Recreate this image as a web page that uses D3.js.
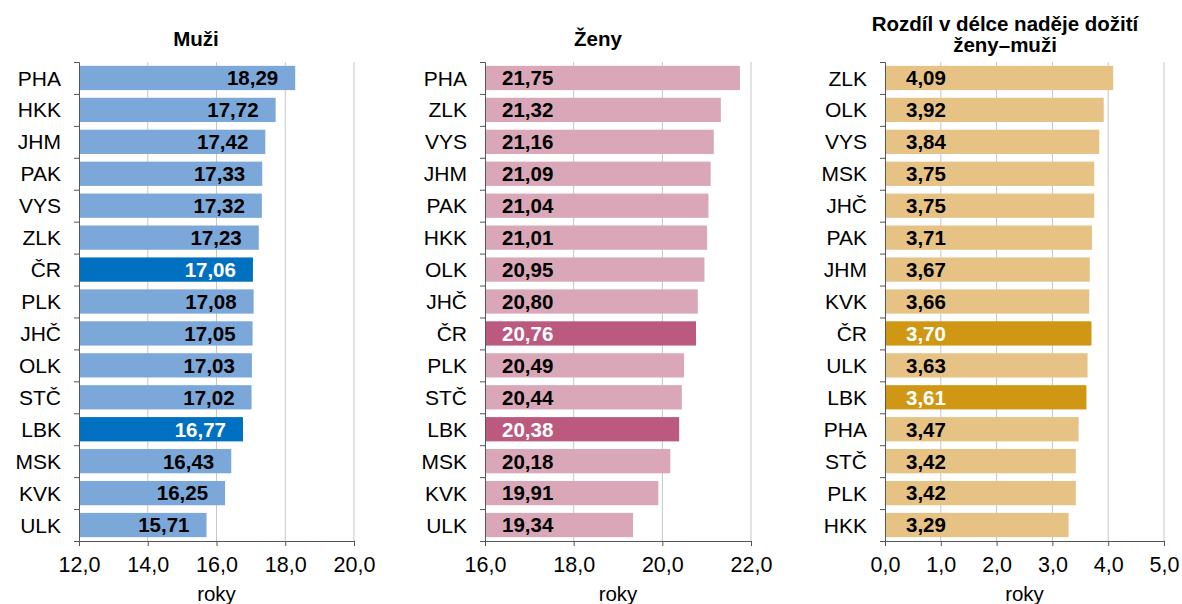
<!DOCTYPE html>
<html>
<head>
<meta charset="utf-8">
<script src="https://cdn.jsdelivr.net/npm/d3@7"></script>
<style>
  body { margin: 0; background: #fff; }
  text { font-family: "Liberation Sans", Arial, sans-serif; }
</style>
</head>
<body>
<div id="chart"></div>
<script>
// data
const menRegions = ["PHA", "HKK", "JHM", "PAK", "VYS", "ZLK", "ČR", "PLK", "JHČ", "OLK", "STČ", "LBK", "MSK", "KVK", "ULK"];
const menValues = [18.29, 17.72, 17.42, 17.33, 17.32, 17.23, 17.06, 17.08, 17.05, 17.03, 17.02, 16.77, 16.43, 16.25, 15.71];

const womenRegions = ["PHA", "ZLK", "VYS", "JHM", "PAK", "HKK", "OLK", "JHČ", "ČR", "PLK", "STČ", "LBK", "MSK", "KVK", "ULK"];
const womenValues = [21.75, 21.32, 21.16, 21.09, 21.04, 21.01, 20.95, 20.80, 20.76, 20.49, 20.44, 20.38, 20.18, 19.91, 19.34];

const diffRegions = ["ZLK", "OLK", "VYS", "MSK", "JHČ", "PAK", "JHM", "KVK", "ČR", "ULK", "LBK", "PHA", "STČ", "PLK", "HKK"];
const diffValues = [4.09, 3.92, 3.84, 3.75, 3.75, 3.71, 3.67, 3.66, 3.70, 3.63, 3.61, 3.47, 3.42, 3.42, 3.29];

const menTicks = [12, 14, 16, 18, 20];
const womenTicks = [16, 18, 20, 22];
const diffTicks = [0, 1, 2, 3, 4, 5];

const highlighted = ["ČR", "LBK"];

const svgWidth = 1182;
const svgHeight = 604;
const plotTop = 62;
const plotBottom = 541;

const svg = d3.select("#chart")
  .append("svg")
  .attr("width", svgWidth)
  .attr("height", svgHeight);

const fmt = v => v.toFixed(2).replace(".", ",");
const fmtTick = v => v.toFixed(1).replace(".", ",");

function drawPanel(opts) {
  const g = svg.append("g");
  const data = opts.regions.map((r, i) => ({ region: r, value: opts.values[i] }));

  const x = d3.scaleLinear()
    .domain(opts.domain)
    .range([opts.left, opts.right]);

  const y = d3.scaleBand()
    .domain(opts.regions)
    .range([plotTop, plotBottom])
    .paddingInner(0.24)
    .paddingOuter(0.12);

  // gridlines
  g.selectAll("line.grid")
    .data(opts.ticks.slice(1))
    .enter()
    .append("line")
    .attr("x1", d => x(d))
    .attr("x2", d => x(d))
    .attr("y1", plotTop)
    .attr("y2", plotBottom)
    .attr("stroke", "#c6c6c6")
    .attr("stroke-width", 1);

  // bars
  g.selectAll("rect")
    .data(data)
    .enter()
    .append("rect")
    .attr("x", x(opts.domain[0]))
    .attr("y", d => y(d.region))
    .attr("width", d => x(d.value) - x(opts.domain[0]))
    .attr("height", y.bandwidth())
    .attr("fill", d => highlighted.includes(d.region) ? opts.dark : opts.light);

  // value labels
  g.selectAll("text.val")
    .data(data)
    .enter()
    .append("text")
    .attr("class", "val")
    .attr("x", d => opts.inside === "end" ? x(d.value) - 17 : x(opts.domain[0]) + opts.labelOffset)
    .attr("y", d => y(d.region) + y.bandwidth() / 2)
    .attr("dy", "0.36em")
    .attr("text-anchor", opts.inside === "end" ? "end" : "start")
    .attr("font-size", "20.5px")
    .attr("font-weight", "bold")
    .attr("fill", d => highlighted.includes(d.region) ? "#fff" : "#000")
    .text(d => fmt(d.value));

  // left axis
  const leftAxis = d3.axisLeft(d3.scaleLinear().domain([0, opts.regions.length]).range([plotTop, plotBottom]))
    .tickValues(d3.range(opts.regions.length + 1))
    .tickSize(5)
    .tickFormat("");
  g.append("g")
    .attr("transform", `translate(${x(opts.domain[0])},0)`)
    .call(leftAxis)
    .call(a => a.selectAll("path, line").attr("stroke", "#555"));

  // category labels
  g.selectAll("text.cat")
    .data(opts.regions)
    .enter()
    .append("text")
    .attr("x", x(opts.domain[0]) - 18)
    .attr("y", d => y(d) + y.bandwidth() / 2)
    .attr("dy", "0.36em")
    .attr("text-anchor", "end")
    .attr("font-size", "21px")
    .attr("fill", "#000")
    .text(d => d);

  // bottom axis
  const bottomAxis = d3.axisBottom(x)
    .tickValues(opts.ticks)
    .tickSize(5)
    .tickSizeOuter(0)
    .tickPadding(11)
    .tickFormat(fmtTick);
  g.append("g")
    .attr("transform", `translate(0,${plotBottom})`)
    .call(bottomAxis)
    .call(a => a.selectAll("path, line").attr("stroke", "#555"))
    .call(a => a.selectAll("text")
      .attr("font-size", "21.5px")
      .attr("fill", "#000")
      .style("font-family", "Liberation Sans, Arial, sans-serif"));

  // axis title
  g.append("text")
    .attr("x", (opts.left + opts.right) / 2)
    .attr("y", 601)
    .attr("text-anchor", "middle")
    .attr("font-size", "20.5px")
    .text("roky");

  // chart title
  const title = g.append("text")
    .attr("x", opts.titleX)
    .attr("text-anchor", "middle")
    .attr("font-size", "20.5px")
    .attr("font-weight", "bold");
  opts.title.forEach((line, i) => {
    title.append("tspan")
      .attr("x", opts.titleX)
      .attr("y", opts.titleY + i * 21)
      .text(line);
  });
}

drawPanel({
  regions: menRegions, values: menValues, domain: [12, 20], ticks: menTicks,
  left: 79, right: 354, light: "#7ba7d9", dark: "#0070c0",
  inside: "end", title: ["Muži"], titleX: 196, titleY: 46
});

drawPanel({
  regions: womenRegions, values: womenValues, domain: [16, 22], ticks: womenTicks,
  left: 485, right: 751, light: "#d9a7b7", dark: "#bb5a7e",
  inside: "start", labelOffset: 17, title: ["Ženy"], titleX: 598, titleY: 46
});

drawPanel({
  regions: diffRegions, values: diffValues, domain: [0, 5], ticks: diffTicks,
  left: 885, right: 1164, light: "#e6c384", dark: "#cf9714",
  inside: "start", labelOffset: 21, title: ["Rozdíl v délce naděje dožití", "ženy–muži"], titleX: 1005, titleY: 31
});
</script>
</body>
</html>
